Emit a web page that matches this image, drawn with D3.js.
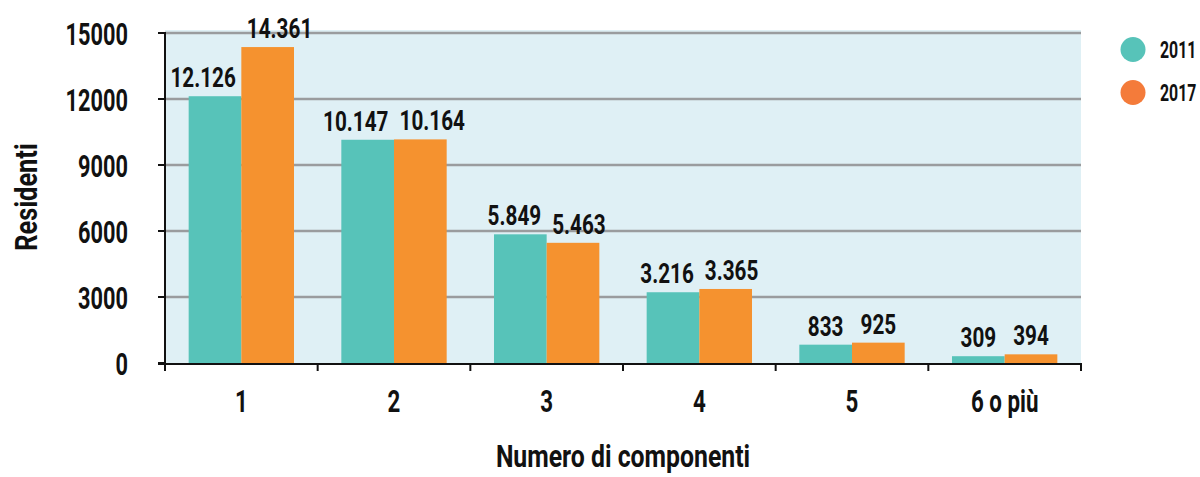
<!DOCTYPE html>
<html><head><meta charset="utf-8">
<script src="https://cdn.jsdelivr.net/npm/d3@7"></script>
<style>
body{margin:0;background:#fff;}
text{font-family:Roboto,"DejaVu Sans Condensed",sans-serif;font-weight:700;fill:#111;}
</style></head><body>
<svg id="c" width="1200" height="477"></svg>
<script>
const categories = ["1","2","3","4","5","6 o più"];
const seriesNames = ["2011","2017"];
const values2011 = [12126,10147,5849,3216,833,309];
const values2017 = [14361,10164,5463,3365,925,394];
const yTicks = [0,3000,6000,9000,12000,15000];
const barColors = ["#57c3b9","#f5922f"];
const legendColors = ["#57c3b9","#f47b3a"];

const SX = 0.68;
const svg = d3.select("#c");
const L=165, R=1081, T=33, B=363;
const x = d3.scaleBand().domain(categories).range([L,R]).paddingInner(0.31).paddingOuter(0.155);
const xs = d3.scaleBand().domain(seriesNames).range([0,x.bandwidth()]);
const y = d3.scaleLinear().domain([0,15000]).range([B,T]);
const fmt = v => d3.format(",")(v).replace(/,/g,".");
const place = (sel, fx, fy, sx=SX) => sel.attr("transform", (d,i)=>`translate(${fx(d,i)},${fy(d,i)}) scale(${sx},1)`);

svg.append("rect").attr("x",L).attr("y",T-3).attr("width",R-L).attr("height",B-T+3).attr("fill","#dff0f5");
svg.append("g").selectAll("line").data(yTicks.filter(d=>d>0)).join("line")
  .attr("x1",L).attr("x2",R).attr("y1",d=>y(d)).attr("y2",d=>y(d))
  .attr("stroke","#9a9c9e").attr("stroke-width",2.5);

const data = categories.map((c,i)=>({c, vals:[values2011[i],values2017[i]]}));
const g = svg.append("g").selectAll("g").data(data).join("g").attr("transform",d=>`translate(${x(d.c)},0)`);
g.selectAll("rect").data(d=>d.vals.map((v,j)=>({v,s:seriesNames[j],j}))).join("rect")
  .attr("x",d=>xs(d.s)).attr("width",xs.bandwidth()).attr("y",d=>y(d.v)).attr("height",d=>B-y(d.v))
  .attr("fill",d=>barColors[d.j]);
const LSX = 0.74;
g.each(function(){
  const grp = d3.select(this);
  const items = grp.datum().vals.map((v,j)=>({v,s:seriesNames[j],j}));
  const t = grp.selectAll("text").data(items).join("text")
    .attr("text-anchor","middle").attr("font-size",28).text(d=>fmt(d.v));
  const w = t.nodes().map(n=>n.getComputedTextLength()*LSX);
  let c = items.map(d=>xs(d.s)+xs.bandwidth()/2);
  const minGap = 11;
  const gap = (c[1]-w[1]/2)-(c[0]+w[0]/2);
  if (gap < minGap) { const s=(minGap-gap)/2; c=[c[0]-s,c[1]+s]; }
  place(t, (d,i)=>c[i], d=>y(d.v)-9, LSX);
});

// y axis
const ya = svg.append("g");
ya.append("path").attr("d",`M${L-7},${T}H${L}V${B}`).attr("fill","none").attr("stroke","#111").attr("stroke-width",2);
ya.selectAll("line").data(yTicks).join("line").attr("x1",L-7).attr("x2",L).attr("y1",d=>y(d)).attr("y2",d=>y(d))
  .attr("stroke","#111").attr("stroke-width",2);
place(ya.selectAll("text").data(yTicks).join("text").attr("text-anchor","end").attr("font-size",32)
  .attr("dy","0.36em").text(d=>d), ()=>128, d=>y(d));

// x axis
const xa = svg.append("g").attr("transform",`translate(0,${B})`);
xa.append("line").attr("x1",L-7).attr("x2",R).attr("y1",1).attr("y2",1).attr("stroke","#111").attr("stroke-width",2);
const bounds = categories.map(c=>x(c)-x.step()*x.paddingInner()/2).concat([R]);
bounds[0]=L;
xa.selectAll("line.t").data(bounds).join("line").attr("class","t")
  .attr("x1",d=>d).attr("x2",d=>d).attr("y1",0).attr("y2",8).attr("stroke","#111").attr("stroke-width",2);
place(xa.selectAll("text").data(categories).join("text").attr("text-anchor","middle").attr("font-size",31).text(c=>c),
  c=>x(c)+x.bandwidth()/2, ()=>49, 0.72);

place(svg.append("text").datum(0).attr("text-anchor","middle").attr("font-size",31).text("Numero di componenti"), ()=>623, ()=>467, 0.80);
svg.append("text").attr("transform",`translate(37,197) rotate(-90) scale(0.82,1)`).attr("text-anchor","middle").attr("font-size",31).text("Residenti");

const lg = svg.append("g").selectAll("g").data(seriesNames).join("g").attr("transform",(d,i)=>`translate(1133,${49.5+i*43})`);
lg.append("circle").attr("r",12.5).attr("fill",(d,i)=>legendColors[i]);
place(lg.append("text").attr("font-size",24).text(d=>d), ()=>27, ()=>8.5, 0.66);
</script></body></html>
